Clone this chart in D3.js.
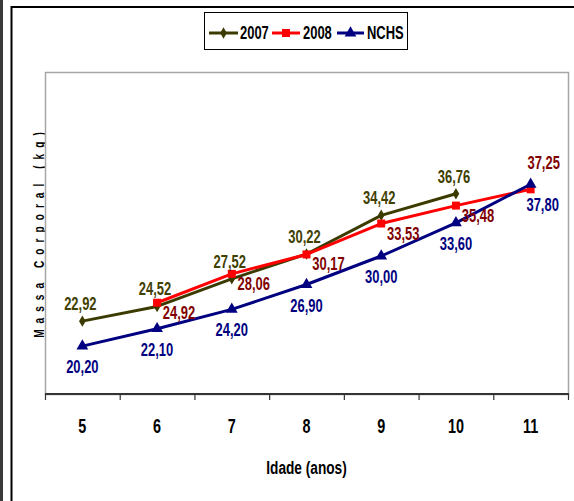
<!DOCTYPE html>
<html>
<head>
<meta charset="utf-8">
<script src="https://cdn.jsdelivr.net/npm/d3@7"></script>
<style>
  html, body { margin: 0; padding: 0; background: #fff; }
  svg { display: block; }
  text { font-family: "Liberation Sans", Arial, sans-serif; font-weight: bold; }
</style>
</head>
<body>
<svg id="chart" width="574" height="501"></svg>
<script>
const categories = ["5", "6", "7", "8", "9", "10", "11"];
const series2007 = [22.92, 24.52, 27.52, 30.22, 34.42, 36.76, null];
const series2008 = [null, 24.92, 28.06, 30.17, 33.53, 35.48, 37.25];
const seriesNCHS = [20.20, 22.10, 24.20, 26.90, 30.00, 33.60, 37.80];
const seriesNames = ["2007", "2008", "NCHS"];
const yDomain = [15, 50];
const xTitle = "Idade (anos)";
const yTitle = "Massa Corporal (kg)";

const svg = d3.select("#chart");
const SX = 0.72;
const fmt = v => v.toFixed(2).replace(".", ",");

// outer frame
svg.append("rect").attr("x", 0).attr("y", 0).attr("width", 3).attr("height", 501).attr("fill", "#3a3a3a");
svg.append("line").attr("x1", 11.5).attr("x2", 11.5).attr("y1", 6).attr("y2", 501).attr("stroke", "#000").attr("stroke-width", 2);
svg.append("line").attr("x1", 11).attr("x2", 574).attr("y1", 7).attr("y2", 7).attr("stroke", "#000").attr("stroke-width", 2);

const plot = {left: 45, right: 568, top: 72, bottom: 394};
const x = d3.scaleBand().domain(categories).range([plot.left, plot.right]).paddingInner(0).paddingOuter(0);
const y = d3.scaleLinear().domain(yDomain).range([plot.bottom, plot.top]);
const cx = c => x(c) + x.bandwidth() / 2;

function stext(g, tx, ty, str, size, color, anchor) {
  return g.append("text")
    .attr("transform", `translate(${tx},${ty}) scale(${SX},1)`)
    .attr("text-anchor", anchor || "middle")
    .attr("font-size", size)
    .attr("fill", color)
    .text(str);
}

// y title (drawn before plot area so the plot clips descender)
svg.append("text")
  .attr("transform", `translate(43.5,232) rotate(-90) scale(${SX},1)`)
  .attr("text-anchor", "middle")
  .attr("font-size", 14)
  .attr("letter-spacing", 8.4)
  .attr("fill", "#000")
  .text(yTitle);

// plot area
svg.append("rect").attr("x", plot.left + 0.5).attr("y", plot.top + 0.5)
  .attr("width", plot.right - plot.left).attr("height", plot.bottom - plot.top)
  .attr("fill", "#fff").attr("stroke", "#a6a6a6").attr("stroke-width", 1.5);

// x axis
const ax = svg.append("g").attr("transform", `translate(0,${plot.bottom})`)
  .call(d3.axisBottom(x).tickSize(0).tickPadding(0).tickFormat(() => ""));
ax.select(".domain").attr("stroke", "#333").attr("stroke-width", 2).attr("d", `M${plot.left},0H${plot.right + 1}`);
const bounds = categories.map(c => x(c)).concat([x.range()[1]]);
ax.selectAll(".bt").data(bounds).join("line").attr("class", "bt")
  .attr("x1", d => d + 0.5).attr("x2", d => d + 0.5).attr("y1", 0).attr("y2", 6)
  .attr("stroke", "#333").attr("stroke-width", 1.2);
categories.forEach(c => stext(svg, cx(c), 433, c, 20, "#000"));
stext(svg, (plot.left + plot.right) / 2, 474, xTitle, 19, "#000");

// series
const defs = [
  {name: seriesNames[0], vals: series2007, color: "#3b3b00", lab: "#404000", sym: d3.symbolDiamond, size: 38, pos: "above"},
  {name: seriesNames[1], vals: series2008, color: "#ff0000", lab: "#800000", sym: d3.symbolSquare, size: 64, pos: "right"},
  {name: seriesNames[2], vals: seriesNCHS, color: "#000080", lab: "#000080", sym: d3.symbolTriangle, size: 60, pos: "below"}
];
const line = d3.line().defined(d => d.v != null).x(d => cx(d.c)).y(d => y(d.v));
defs.forEach(s => {
  const pts = categories.map((c, i) => ({c, v: s.vals[i]}));
  svg.append("path").datum(pts).attr("d", line).attr("fill", "none")
    .attr("stroke", s.color).attr("stroke-width", 3).attr("stroke-linejoin", "round");
  svg.selectAll(null).data(pts.filter(d => d.v != null)).join("path")
    .attr("transform", d => `translate(${cx(d.c)},${y(d.v)})`)
    .attr("d", d3.symbol(s.sym, s.size)).attr("fill", s.color);
});
// labels
defs.forEach(s => {
  categories.forEach((c, i) => {
    const v = s.vals[i];
    if (v == null) return;
    const last = i === categories.length - 1;
    let lx = cx(c), ly = y(v);
    if (s.pos === "above") { lx -= 2; ly -= 11; }
    else if (s.pos === "right") {
      if (last) { lx += 13; ly -= 20; } else { lx += 22; ly += 16; }
    } else { ly += 27; if (last) lx += 12; }
    stext(svg, lx, ly, fmt(v), 18, s.lab);
  });
});

// legend
const lg = svg.append("g");
lg.append("rect").attr("x", 204.5).attr("y", 12.5).attr("width", 203).attr("height", 37)
  .attr("fill", "#fff").attr("stroke", "#000").attr("stroke-width", 1);
const legendPos = [{x0: 209, x1: 238, tx: 240}, {x0: 272, x1: 300, tx: 303}, {x0: 337, x1: 364, tx: 367}];
defs.forEach((s, i) => {
  const p = legendPos[i];
  lg.append("line").attr("x1", p.x0).attr("x2", p.x1).attr("y1", 33).attr("y2", 33)
    .attr("stroke", s.color).attr("stroke-width", 3);
  lg.append("path").attr("transform", `translate(${(p.x0 + p.x1) / 2},33)`)
    .attr("d", d3.symbol(s.sym, s.size)).attr("fill", s.color);
  stext(lg, p.tx, 38.5, s.name, 18, "#000", "start");
});
</script>
</body>
</html>
